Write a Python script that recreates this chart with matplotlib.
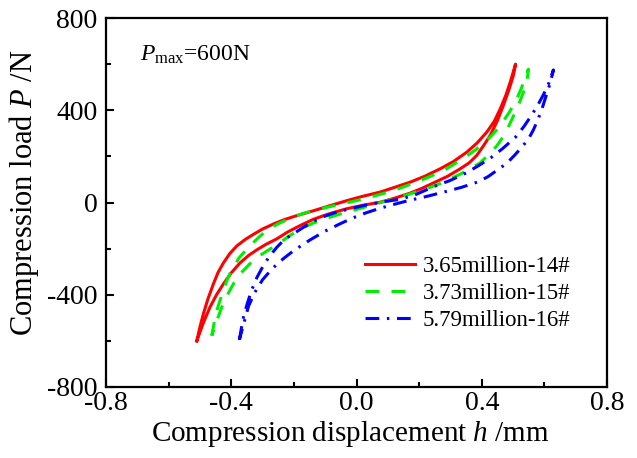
import matplotlib
matplotlib.use("Agg")
import matplotlib.pyplot as plt

plt.rcParams['font.family'] = ['Liberation Serif', 'DejaVu Serif']
plt.rcParams['mathtext.fontset'] = 'custom'
plt.rcParams['mathtext.rm'] = 'Liberation Serif'
plt.rcParams['mathtext.it'] = 'Liberation Serif:italic'

# ---- data ----
labels = ["3.65million-14#", "3.73million-15#", "5.79million-16#"]

red_up_x = [-0.510, -0.500, -0.489, -0.475, -0.457, -0.442, -0.425, -0.405, -0.382, -0.355, -0.329, -0.300, -0.265, -0.230, -0.191, -0.138, -0.090, -0.031, 0.020, 0.075, 0.120, 0.171, 0.220, 0.267, 0.310, 0.352, 0.385, 0.416, 0.440, 0.459, 0.477, 0.491, 0.508]
red_up_y = [-600, -540, -483, -420, -353, -303, -262, -222, -188, -160, -138, -115, -93, -74, -57, -36, -16, 8, 27, 45, 65, 88, 115, 146, 178, 218, 258, 305, 352, 406, 465, 522, 600]
red_lo_x = [-0.510, -0.490, -0.468, -0.447, -0.425, -0.400, -0.372, -0.345, -0.319, -0.290, -0.255, -0.220, -0.180, -0.138, -0.090, -0.031, 0.020, 0.075, 0.120, 0.170, 0.210, 0.246, 0.290, 0.331, 0.360, 0.384, 0.405, 0.427, 0.450, 0.469, 0.487, 0.501, 0.508]
red_lo_y = [-600, -525, -454, -400, -353, -305, -262, -230, -206, -182, -158, -128, -100, -73, -50, -27, -12, 1, 18, 40, 62, 85, 113, 146, 172, 204, 245, 291, 355, 421, 490, 551, 600]

grn_up_x = [-0.462, -0.457, -0.452, -0.442, -0.430, -0.416, -0.400, -0.375, -0.342, -0.310, -0.284, -0.250, -0.212, -0.165, -0.116, -0.060, 0.000, 0.043, 0.080, 0.118, 0.155, 0.185, 0.220, 0.250, 0.280, 0.310, 0.350, 0.380, 0.410, 0.435, 0.460, 0.485, 0.505, 0.525, 0.549]
grn_up_y = [-577, -540, -500, -450, -400, -345, -295, -240, -190, -148, -118, -92, -68, -45, -28, -10, 8, 23, 37, 52, 70, 86, 104, 122, 140, 165, 200, 228, 262, 295, 335, 385, 430, 490, 578]
grn_lo_x = [-0.462, -0.452, -0.440, -0.428, -0.412, -0.392, -0.366, -0.340, -0.311, -0.280, -0.253, -0.220, -0.180, -0.140, -0.100, -0.050, 0.000, 0.065, 0.110, 0.150, 0.200, 0.240, 0.267, 0.300, 0.333, 0.363, 0.395, 0.420, 0.448, 0.468, 0.485, 0.503, 0.520, 0.535, 0.545, 0.549]
grn_lo_y = [-577, -535, -490, -445, -400, -350, -302, -265, -232, -205, -182, -150, -115, -90, -70, -49, -30, -5, 12, 28, 50, 68, 82, 103, 124, 146, 172, 205, 245, 285, 328, 380, 432, 485, 530, 578]

blu_up_x = [-0.374, -0.367, -0.360, -0.348, -0.335, -0.318, -0.300, -0.280, -0.255, -0.230, -0.202, -0.170, -0.138, -0.107, -0.060, -0.010, 0.040, 0.090, 0.140, 0.190, 0.245, 0.300, 0.350, 0.390, 0.430, 0.465, 0.507, 0.535, 0.560, 0.580, 0.598, 0.615, 0.629]
blu_up_y = [-595, -540, -490, -435, -380, -325, -280, -237, -195, -160, -136, -108, -82, -62, -40, -24, -8, 4, 14, 35, 68, 96, 128, 160, 195, 232, 282, 330, 380, 425, 470, 520, 575]
blu_lo_x = [-0.374, -0.365, -0.355, -0.345, -0.325, -0.300, -0.270, -0.235, -0.200, -0.148, -0.100, -0.052, -0.010, 0.030, 0.075, 0.120, 0.165, 0.220, 0.278, 0.336, 0.389, 0.420, 0.448, 0.480, 0.505, 0.528, 0.549, 0.565, 0.581, 0.592, 0.605, 0.618, 0.629]
blu_lo_y = [-595, -550, -500, -450, -390, -335, -288, -245, -208, -162, -124, -92, -66, -45, -25, -8, 8, 25, 45, 66, 90, 112, 139, 170, 205, 240, 275, 315, 365, 405, 460, 515, 575]

x_ticks = [-0.8, -0.4, 0.0, 0.4, 0.8]
x_ticklabels = ["-0.8", "-0.4", "0.0", "0.4", "0.8"]
y_ticks = [-800, -400, 0, 400, 800]
y_ticklabels = ["-800", "-400", "0", "400", "800"]

fig = plt.figure(figsize=(6.37, 4.58), dpi=100)
ax = fig.add_axes([106/637, 1-387/458, (607-106)/637, (387-18)/458])

def loop(ux, uy, lx, ly):
    return list(ux) + list(lx[::-1]), list(uy) + list(ly[::-1])

x, y = loop(red_up_x, red_up_y, red_lo_x, red_lo_y)
ax.plot(x, y, color='#ff0000', lw=2.2, ls='-', label=labels[0], solid_joinstyle='round')
x, y = loop(grn_up_x, grn_up_y, grn_lo_x, grn_lo_y)
ax.plot(x, y, color='#00ee00', lw=2.2, ls=(0, (4.5, 4)), label=labels[1])
x, y = loop(blu_up_x, blu_up_y, blu_lo_x, blu_lo_y)
ax.plot(x, y, color='#0000ff', lw=2.2, ls=(0, (4.5, 2.5, 0.8, 2.5)), label=labels[2])

ax.set_xlim(-0.8, 0.8)
ax.set_ylim(-800, 800)
ax.set_xticks(x_ticks)
ax.set_xticklabels(x_ticklabels)
ax.set_yticks(y_ticks)
ax.set_yticklabels(y_ticklabels)
ax.set_xticks([-0.6, -0.2, 0.2, 0.6], minor=True)
ax.set_yticks([-600, -200, 200, 600], minor=True)
ax.tick_params(which='both', direction='in', top=False, right=False, labelsize=20, width=1.5)
ax.tick_params(which='major', length=6)
ax.tick_params(which='minor', length=3.5)
ax.tick_params(axis='y', pad=6)
ax.tick_params(axis='x', pad=3)
for s in ax.spines.values():
    s.set_linewidth(1.6)

ax.set_xlabel("Compression displacement $h$ /mm", fontsize=21)
ax.set_ylabel("Compression load $P$ /N", fontsize=22)
ax.xaxis.set_label_coords((350-106)/501, -0.088)
ax.yaxis.set_label_coords(-0.13, (387-193)/369)

ax.text((140-106)/501, (387-61)/369, "$P_{\\mathrm{max}}$=600N", transform=ax.transAxes,
        fontsize=17, va='baseline', ha='left')

leg = ax.legend(loc='upper left', bbox_to_anchor=((365-106)/501, (387-256)/369), frameon=False,
                fontsize=16.5, handlelength=2.18, handletextpad=0.35, labelspacing=0.25,
                borderaxespad=0, borderpad=0)

fig.savefig("out.png", dpi=100)
